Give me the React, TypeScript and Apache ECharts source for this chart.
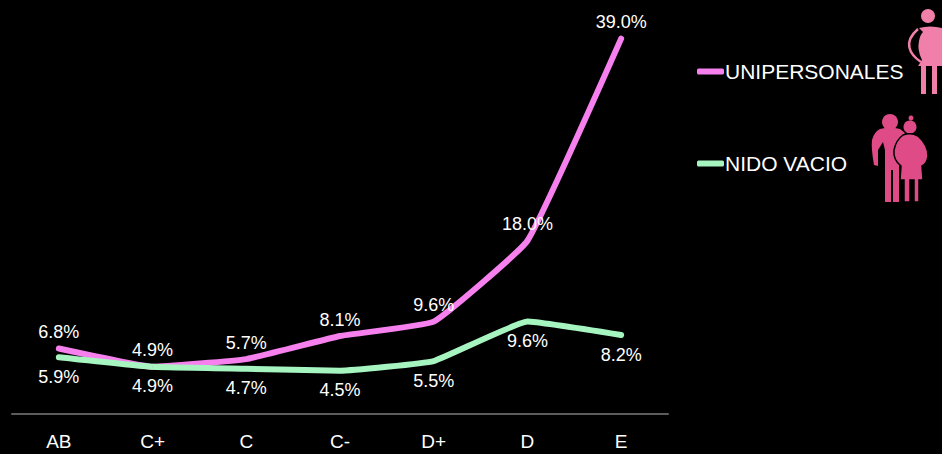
import React, { useEffect, useRef } from "react";
import * as echarts from "echarts";

const categories = ["AB", "C+", "C", "C-", "D+", "D", "E"];
const unipersonales = [6.8, 4.9, 5.7, 8.1, 9.6, 18.0, 39.0];
const nidoVacio = [5.9, 4.9, 4.7, 4.5, 5.5, 9.6, 8.2];

const FONT = '"Liberation Sans", Arial, sans-serif';
const PINK = "#f680ee";
const GREEN = "#a6f5c0";

const womanDress =
  "M919 28 Q930 25 942 28 L942 66 L918 66 L922 60 Q917 50 919 41 Q920 35 923 32 Z";
const womanLegs = "M921 66 L926 66 L926 94 L921 94 Z M932 66 L937 66 L937 94 L932 94 Z";
const manBody =
  "M880 129 Q890 126 900 129 L905 133 L899 142 L899 202 L893 202 L893 170 L891 170 L891 202 L885 202 L885 150 L883 142 L878 150 L878 166 L874 165 Q871 148 872 140 Q874 132 880 129 Z";
const womanTwoBody =
  "M903 135 Q911 132 918 136 Q928 145 928 156 Q927 164 922 166 L923 180 L919 180 L919 202 L914 202 L914 180 L910 180 L910 202 L904 202 L904 180 L900 180 L901 166 Q893 160 894 150 Q896 140 903 135 Z";

echarts.graphic.registerShape("womanDress", echarts.graphic.extendPath(womanDress, {}));
echarts.graphic.registerShape("womanLegs", echarts.graphic.extendPath(womanLegs, {}));
echarts.graphic.registerShape("manBody", echarts.graphic.extendPath(manBody, {}));
echarts.graphic.registerShape("womanTwoBody", echarts.graphic.extendPath(womanTwoBody, {}));

export default function App() {
  const ref = useRef<HTMLDivElement>(null);

  useEffect(() => {
    const chart = echarts.init(ref.current!, null, { renderer: "svg" });
    const labelBase = {
      show: true,
      color: "#ffffff",
      fontFamily: FONT,
      fontSize: 18,
      formatter: (p: any) => `${p.value.toFixed(1)}%`,
    };
    chart.setOption({
      animation: false,
      backgroundColor: "#000000",
      grid: { left: 12, top: 29, width: 656, height: 385 },
      xAxis: {
        type: "category",
        data: categories,
        boundaryGap: true,
        axisLine: { lineStyle: { color: "#5c5c5c", width: 2 } },
        axisTick: { show: false },
        axisLabel: { color: "#ffffff", fontFamily: FONT, fontSize: 19, margin: 18 },
      },
      yAxis: { type: "value", min: 0, max: 40, show: false },
      legend: {
        orient: "vertical",
        left: 692,
        top: 56,
        itemWidth: 27,
        itemHeight: 6,
        itemGap: 71,
        icon: "roundRect",
        textStyle: { color: "#ffffff", fontFamily: FONT, fontSize: 21, padding: [0, 0, 0, -4] },
        data: ["UNIPERSONALES", "NIDO VACIO"],
      },
      series: [
        {
          name: "UNIPERSONALES",
          type: "line",
          data: unipersonales,
          smooth: 0.1,
          symbol: "circle",
          symbolSize: 1,
          lineStyle: { color: PINK, width: 6, cap: "round", join: "round" },
          itemStyle: { color: PINK },
          label: { ...labelBase, position: "top", distance: 7 },
        },
        {
          name: "NIDO VACIO",
          type: "line",
          data: nidoVacio,
          smooth: 0.1,
          symbol: "circle",
          symbolSize: 1,
          lineStyle: { color: GREEN, width: 6, cap: "round", join: "round" },
          itemStyle: { color: GREEN },
          label: { ...labelBase, position: "bottom", distance: 10 },
        },
      ],
      graphic: [
        { type: "circle", shape: { cx: 928, cy: 16, r: 7 }, style: { fill: "#f07fa9" } },
        { type: "womanDress", style: { fill: "#f07fa9" } },
        { type: "womanLegs", style: { fill: "#f07fa9" } },
        {
          type: "bezierCurve",
          shape: { x1: 918, y1: 29, x2: 921, y2: 62, cpx1: 903, cpy1: 42, cpx2: 909, cpy2: 54 },
          style: { stroke: "#f07fa9", fill: "none", lineWidth: 2.5 },
        },
        { type: "circle", shape: { cx: 890, cy: 122, r: 8 }, style: { fill: "#df4b86" } },
        { type: "manBody", style: { fill: "#df4b86" } },
        { type: "circle", shape: { cx: 910, cy: 127, r: 6.5 }, style: { fill: "#df4b86" } },
        { type: "circle", shape: { cx: 911, cy: 118, r: 2.5 }, style: { fill: "#df4b86" } },
        { type: "womanTwoBody", style: { fill: "#df4b86", stroke: "#000000", lineWidth: 1.5 } },
      ],
    });
    return () => chart.dispose();
  }, []);

  return (
    <div
      ref={ref}
      style={{ position: "fixed", left: 0, top: 0, width: 942, height: 454, background: "#000" }}
    />
  );
}
